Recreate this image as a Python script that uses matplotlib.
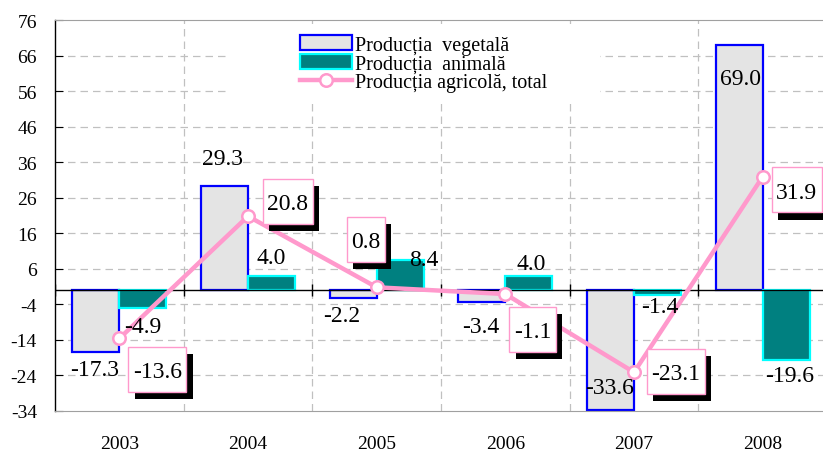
import matplotlib
matplotlib.use("Agg")
import matplotlib.pyplot as plt
from matplotlib.patches import Rectangle, Patch
from matplotlib.lines import Line2D
from matplotlib.transforms import ScaledTranslation
import numpy as np

plt.rcParams['font.family'] = ['Liberation Serif', 'DejaVu Serif']

years = ['2003', '2004', '2005', '2006', '2007', '2008']
vegetal = [-17.3, 29.3, -2.2, -3.4, -33.6, 69.0]
animal = [-4.9, 4.0, 8.4, 4.0, -1.4, -19.6]
total = [-13.6, 20.8, 0.8, -1.1, -23.1, 31.9]
yticks = [76, 66, 56, 46, 36, 26, 16, 6, -4, -14, -24, -34]

# label offsets (pixels, dy up positive)
veg_off = [(-1, -17.5), (-2, 27), (-11, -18), (-1, -24), (-1, 22), (1, -34)]
ani_off = [(0, -19), (0, 18), (24, 1), (2, 12), (2, -11), (3, -16)]
tot_off = [(38, -31), (40, 15), (-11, 48), (27, -35), (42, 1), (34, -13)]

W, H = 823, 452
fig = plt.figure(figsize=(W / 100, H / 100), dpi=100)
ax = fig.add_axes([55 / W, (H - 412) / H, (827 - 55) / W, (412 - 21) / H])

x = np.arange(len(years))
bw = 0.366
ax.set_xlim(-0.5, 5.5)
ax.set_ylim(-34, 76)

# grid
grid_kw = dict(color='#c0c0c0', lw=0.9, dashes=(6, 4), zorder=0)
for yt in yticks[1:-1]:
    ax.axhline(yt, **grid_kw)
for b in np.arange(0.5, 5.5, 1.0):
    ax.axvline(b, **grid_kw)

# white legend background box
ax.add_patch(Rectangle(((228 - 55) / 772, (412 - 100) / 391), (600 - 228) / 772, (100 - 28) / 391,
                       transform=ax.transAxes, facecolor='white', edgecolor='none', zorder=1))

ax.bar(x - bw / 2, vegetal, bw, facecolor='#e4e4e4', edgecolor='#0000ff', lw=1.6, zorder=2)
ax.bar(x + bw / 2, animal, bw, facecolor='#008080', edgecolor='#00ffff', lw=1.6, zorder=2)

ax.axhline(0, color='black', lw=1.0, zorder=3)
ax.vlines(np.arange(-0.5, 5.6, 1.0), -1.7, 1.7, color='black', lw=1.0, zorder=3)

ax.plot(x, total, color='#ff99cc', lw=3.2, marker='o', ms=9, mfc='white', mec='#ff99cc',
        mew=1.8, zorder=4)

k = 0.72
tot_texts = []
for i in range(len(years)):
    ax.annotate(f"{vegetal[i]:.1f}", (x[i] - bw / 2, vegetal[i]), xytext=(veg_off[i][0] * k, veg_off[i][1] * k),
                textcoords='offset points', ha='center', va='center', fontsize=17, zorder=6)
    ax.annotate(f"{animal[i]:.1f}", (x[i] + bw / 2, animal[i]), xytext=(ani_off[i][0] * k, ani_off[i][1] * k),
                textcoords='offset points', ha='center', va='center', fontsize=17, zorder=6)
    t = ax.annotate(f"{total[i]:.1f}", (x[i], total[i]), xytext=(tot_off[i][0] * k, tot_off[i][1] * k),
                    textcoords='offset points', ha='center', va='center_baseline', fontsize=17, zorder=8)
    tot_texts.append(t)

# spines
for s in ['top', 'bottom', 'right']:
    ax.spines[s].set_color('#a0a0a0')
ax.spines['left'].set_color('black')
ax.spines['left'].set_linewidth(1.0)

ax.set_yticks(yticks)
ax.set_yticklabels([str(v) for v in yticks], fontsize=14)
ax.tick_params(axis='y', direction='in', length=6, pad=13, color='black')
ax.set_xticks(x)
ax.set_xticklabels(years, fontsize=14)
ax.tick_params(axis='x', length=0, pad=17)

handles = [Patch(facecolor='#e4e4e4', edgecolor='#0000ff', lw=1.6),
           Patch(facecolor='#008080', edgecolor='#00ffff', lw=1.6),
           Line2D([0], [0], color='#ff99cc', lw=3.2, marker='o', ms=9, mfc='white', mec='#ff99cc', mew=1.8)]
labels = ['Producția  vegetală', 'Producția  animală', 'Producția agricolă, total']
leg = ax.legend(handles, labels, loc='upper left', bbox_to_anchor=((300 - 55) / 772, (412 - 36) / 391),
                frameon=False, fontsize=14.5, handlelength=2.6, handleheight=0.8, labelspacing=-0.04,
                handletextpad=0.15, borderpad=0, borderaxespad=0)
leg.set_zorder(9)

# boxes with shadows behind the total labels
fig.canvas.draw()
r = fig.canvas.get_renderer()
for i, t in enumerate(tot_texts):
    bb = t.get_window_extent(r)
    wpx = bb.width + 9
    hpx = 45
    cx, cy = tot_off[i]
    tr = fig.dpi_scale_trans + ScaledTranslation(x[i], total[i], ax.transData)
    x0 = (cx - wpx / 2) / 100
    y0 = (cy - hpx / 2) / 100
    ax.add_patch(Rectangle((x0 + 0.065, y0 - 0.075), wpx / 100, hpx / 100, transform=tr,
                           facecolor='black', edgecolor='none', zorder=6.5, clip_on=False))
    ax.add_patch(Rectangle((x0, y0), wpx / 100, hpx / 100, transform=tr,
                           facecolor='white', edgecolor='#ff99cc', lw=1.0, zorder=7, clip_on=False))

fig.savefig('out.png', dpi=100)
